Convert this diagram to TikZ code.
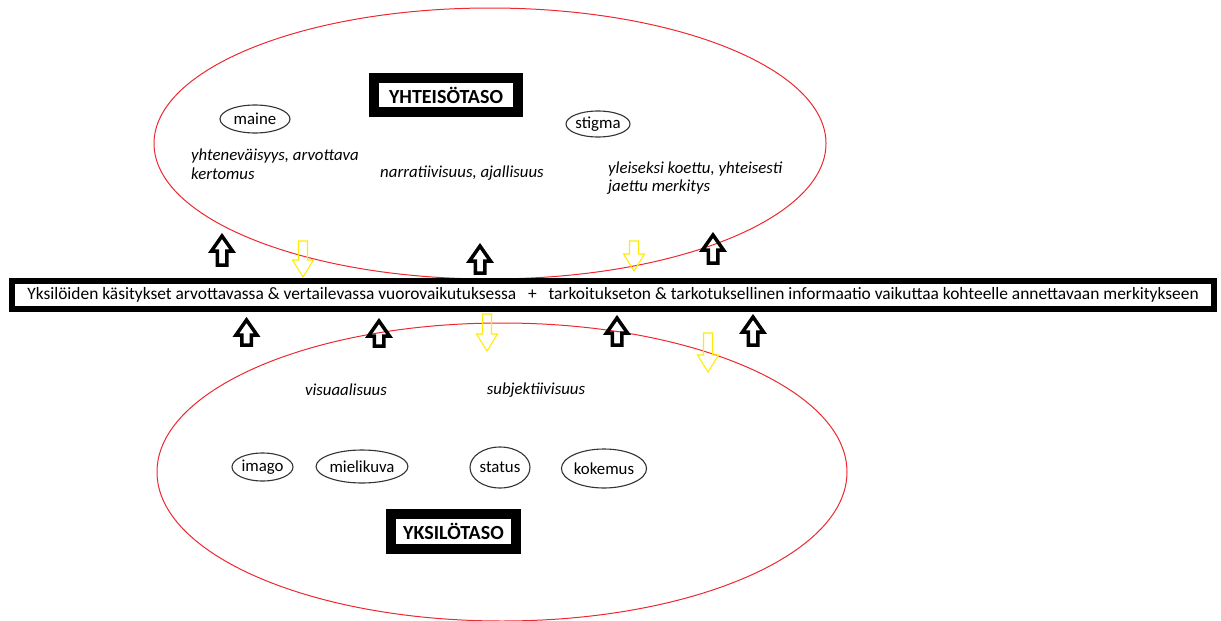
\documentclass[tikz,border=0pt]{standalone}
\usepackage{fontspec}
\setmainfont{Carlito}
\usetikzlibrary{positioning}
\usetikzlibrary{shapes.geometric}

\definecolor{punainen}{RGB}{237,40,48}
\definecolor{keltainen}{RGB}{255,236,0}

\tikzset{
  taso/.style={draw=black, line width=9.5pt, fill=white, inner sep=0pt,
    font=\fontsize{20}{24}\selectfont\bfseries},
  pieni/.style={ellipse, draw=black!80, line width=1.1pt, inner sep=0pt,
    font=\fontsize{16.8}{19}\selectfont},
  kuvaus/.style={inner sep=0pt, align=left,
    font=\fontsize{16.8}{18.5}\selectfont\itshape},
  ylos/.style={draw=black, line width=3.5pt},
  alas/.style={draw=keltainen, line width=1.1pt}
}

\begin{document}
\begin{tikzpicture}[x=1pt, y=-1pt]
 \useasboundingbox (0,0) rectangle (1221,621);
 % isot ellipsit
 \draw[punainen, line width=1pt] (490,143.5) ellipse [x radius=336pt, y radius=135.5pt];
 \draw[punainen, line width=1pt] (502,472) ellipse [x radius=345pt, y radius=149pt];
 % yhteisotaso
 \node[taso, minimum width=144pt, minimum height=34pt] (yhteiso) at (446,95) {YHTEISÖTASO};
 \node[pieni, minimum width=70pt, minimum height=28pt] (maine) at (255,119) {maine};
 \node[pieni, minimum width=64pt, minimum height=26pt] (stigma) at (598,124) {stigma};
 \node[kuvaus, anchor=west] (yhtenevaisyys) at (191,164) {yhteneväisyys, arvottava\\kertomus};
 \node[kuvaus] (narratiivisuus) at (462,173) {narratiivisuus, ajallisuus};
 \node[kuvaus, anchor=west] (yleiseksi) at (608,178) {yleiseksi koettu, yhteisesti\\jaettu merkitys};
 % keskipalkki
 \node[draw=black, line width=6pt, fill=white, inner sep=0pt,
   minimum width=1202pt, minimum height=28pt,
   font=\fontsize{17.4}{20}\selectfont] (palkki) at (613,295)
   {Yksilöiden käsitykset arvottavassa \& vertailevassa vuorovaikutuksessa \ \ + \ \ tarkoitukseton \& tarkotuksellinen informaatio vaikuttaa kohteelle annettavaan merkitykseen};
 % yksilotaso
 \node[kuvaus] (visuaalisuus) at (346,390) {visuaalisuus};
 \node[kuvaus] (subjektiivisuus) at (536,390) {subjektiivisuus};
 \node[pieni, minimum width=61pt, minimum height=28pt] (imago) at (262.5,467) {imago};
 \node[pieni, minimum width=86pt, minimum height=33pt] (mielikuva) at (362,466.5) {mielikuva};
 \node[pieni, minimum width=60pt, minimum height=41pt] (status) at (500,467.5) {status};
 \node[pieni, minimum width=84pt, minimum height=39pt] (kokemus) at (604,468.5) {kokemus};
 \node[taso, minimum width=125pt, minimum height=35pt] (yksilo) at (453.5,531.5) {YKSILÖTASO};
 % nuolet ylos
 \foreach \x/\t/\b in {222/236/265, 480/246/273, 713/235/263, 246.5/320/345, 379/321/346, 617/318/345, 753/317/345}
   \draw[ylos] (\x,\t) -- (\x+10.5,\t+15) -- (\x+4.75,\t+15) -- (\x+4.75,\b)
     -- (\x-4.75,\b) -- (\x-4.75,\t+15) -- (\x-10.5,\t+15) -- cycle;
 % nuolet alas
 \foreach \x/\t/\e in {303/241/277, 634/241/271, 487/314/351, 708/333/372}
   \draw[alas] (\x-4.5,\t) -- (\x+4.5,\t) -- (\x+4.5,\e-17) -- (\x+10.5,\e-17)
     -- (\x,\e) -- (\x-10.5,\e-17) -- (\x-4.5,\e-17) -- cycle;
\end{tikzpicture}
\end{document}
